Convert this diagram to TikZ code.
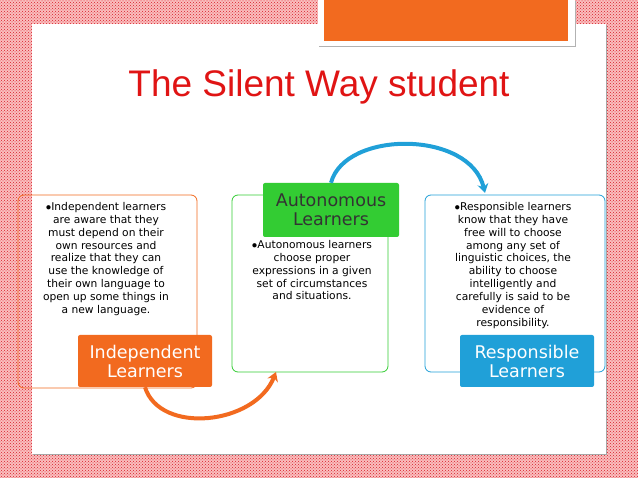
\documentclass[tikz,border=0pt]{standalone}
\usepackage{fontspec}
\setmainfont{Liberation Sans}
\newfontfamily\dv{DejaVu Sans}
\usetikzlibrary{patterns,arrows.meta}
\definecolor{org}{RGB}{242,106,31}
\definecolor{grn}{RGB}{51,204,51}
\definecolor{blu}{RGB}{32,160,216}
\definecolor{ttl}{RGB}{224,20,20}
\definecolor{pk}{RGB}{250,190,190}
\definecolor{dt}{RGB}{215,30,40}
\begin{document}
\begin{tikzpicture}[x=1pt,y=-1pt,
  txt/.style={align=center, font=\dv\fontsize{10.7}{12.9}\selectfont, anchor=north, inner sep=0pt},
  obox/.style={draw=#1, line width=0.8pt, rounded corners=6pt},
  lbl/.style={fill=#1, rounded corners=2pt, font=\dv\fontsize{17.5}{19}\selectfont, align=center, inner sep=0pt}]
\useasboundingbox (0,0) rectangle (638,478);
\fill[pk] (0,0) rectangle (638,478);
\fill[pattern=crosshatch dots, pattern color=dt] (0,0) rectangle (638,478);
\fill[gray!70] (33,25) rectangle (607,455);
\fill[white] (32,24) rectangle (606,454);
\fill[gray!60] (319,1) rectangle (576,47);
\fill[white] (318,0) rectangle (575,46);
\fill[org] (324,0) rectangle (568,41);
\node[font=\fontsize{37}{40}\selectfont, text=ttl] (title) at (319,87) {The Silent Way student};
% boxes
\draw[obox=org] (18,195) rectangle (197,388);
\draw[obox=grn] (232,195) rectangle (388,372);
\draw[obox=blu] (425,195) rectangle (605,372);
\node[txt] (t1) at (106,202) {$\bullet$Independent learners\\are aware that they\\must depend on their\\own resources and\\realize that they can\\use the knowledge of\\their own language to\\open up some things in\\a new language.};
\node[txt] (t2) at (312,240) {$\bullet$Autonomous learners\\choose proper\\expressions in a given\\set of circumstances\\and situations.};
\node[txt] (t3) at (513,202) {$\bullet$Responsible learners\\know that they have\\free will to choose\\among any set of\\linguistic choices, the\\ability to choose\\intelligently and\\carefully is said to be\\evidence of\\responsibility.};
\node[lbl=org, text=white, minimum width=134pt, minimum height=52pt] (L1) at (145,361) {Independent\\Learners};
\node[lbl=grn, text=black!80, minimum width=136pt, minimum height=54pt] (L2) at (331,210) {Autonomous\\Learners};
\node[lbl=blu, text=white, minimum width=134pt, minimum height=52pt] (L3) at (527,361) {Responsible\\Learners};
\coordinate (a1) at (276,372);
\coordinate (a2) at (485,193);
\draw[org, line width=4pt, -{Stealth[length=9pt,width=11pt]}] (L1.south) .. controls (160,435) and (255,425) .. (a1);
\draw[blu, line width=4pt, -{Stealth[length=9pt,width=11pt]}] (L2.north) .. controls (345,130) and (470,130) .. (a2);
\end{tikzpicture}
\end{document}
